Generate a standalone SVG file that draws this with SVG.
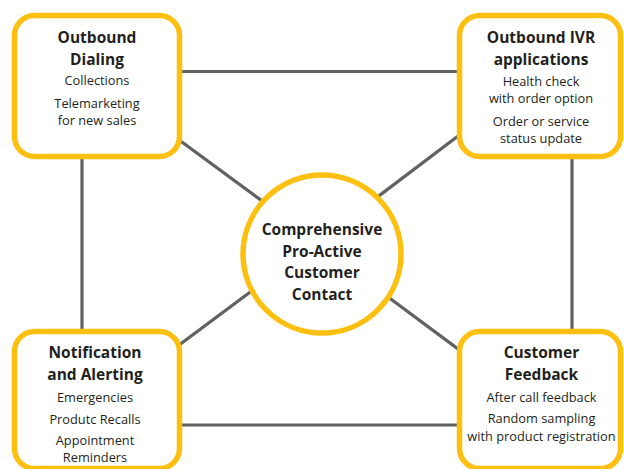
<svg xmlns="http://www.w3.org/2000/svg" width="624" height="469" viewBox="0 0 624 469">
  <style>
    .conn { stroke: #616161; stroke-width: 3.2; fill: none; }
    .frame { fill: #ffffff; stroke: #fdc010; stroke-width: 5.5; }
    .title { font-family: "Open Sans", "Noto Sans", sans-serif; font-weight: bold; font-size: 15.5px; fill: #231f20; text-anchor: middle; }
    .body { font-family: "Open Sans", "Noto Sans", sans-serif; font-size: 12.8px; fill: #231f20; text-anchor: middle; }
  </style>
  <rect width="624" height="469" fill="#ffffff"/>

  <!-- connectors, drawn under the nodes -->
  <g id="connectors">
    <line class="conn" x1="175" y1="71.5" x2="465" y2="71.5"/>
    <line class="conn" x1="175" y1="425" x2="465" y2="425"/>
    <line class="conn" x1="82" y1="150" x2="82" y2="336"/>
    <line class="conn" x1="572" y1="150" x2="572" y2="336"/>
    <line class="conn" x1="170" y1="133.2" x2="270" y2="206.9"/>
    <line class="conn" x1="468" y1="128.5" x2="370" y2="202.6"/>
    <line class="conn" x1="170" y1="351.7" x2="258" y2="286.3"/>
    <line class="conn" x1="380" y1="291" x2="468" y2="356.4"/>
  </g>

  <g id="outbound-dialing">
    <rect class="frame" x="14.5" y="15.5" width="165" height="141" rx="20"/>
    <text class="title" x="97" y="43">Outbound</text>
    <text class="title" x="97" y="65">Dialing</text>
    <text class="body" x="97" y="85">Collections</text>
    <text class="body" x="97" y="108">Telemarketing</text>
    <text class="body" x="97" y="125">for new sales</text>
  </g>

  <g id="outbound-ivr">
    <rect class="frame" x="459.5" y="15.5" width="161" height="141" rx="20"/>
    <text class="title" x="541" y="43">Outbound IVR</text>
    <text class="title" x="541" y="64.5">applications</text>
    <text class="body" x="541" y="86">Health check</text>
    <text class="body" x="541" y="103">with order option</text>
    <text class="body" x="541" y="126">Order or service</text>
    <text class="body" x="541" y="143">status update</text>
  </g>

  <g id="notification-alerting">
    <rect class="frame" x="14.5" y="331.5" width="165" height="137" rx="20"/>
    <text class="title" x="95" y="358">Notification</text>
    <text class="title" x="95" y="379.5">and Alerting</text>
    <text class="body" x="95" y="402">Emergencies</text>
    <text class="body" x="95" y="424">Produtc Recalls</text>
    <text class="body" x="95" y="444.5">Appointment</text>
    <text class="body" x="95" y="462">Reminders</text>
  </g>

  <g id="customer-feedback">
    <rect class="frame" x="459.5" y="331.5" width="161" height="137" rx="20"/>
    <text class="title" x="541.5" y="358">Customer</text>
    <text class="title" x="541.5" y="379.5">Feedback</text>
    <text class="body" x="541.5" y="402">After call feedback</text>
    <text class="body" x="541.5" y="423">Random sampling</text>
    <text class="body" x="541.5" y="440.5">with product registration</text>
  </g>

  <g id="proactive-contact">
    <circle class="frame" cx="322" cy="254" r="79" stroke-width="6"/>
    <text class="title" x="322" y="235">Comprehensive</text>
    <text class="title" x="322" y="256.7">Pro-Active</text>
    <text class="title" x="322" y="278.3">Customer</text>
    <text class="title" x="322" y="300">Contact</text>
  </g>
</svg>
